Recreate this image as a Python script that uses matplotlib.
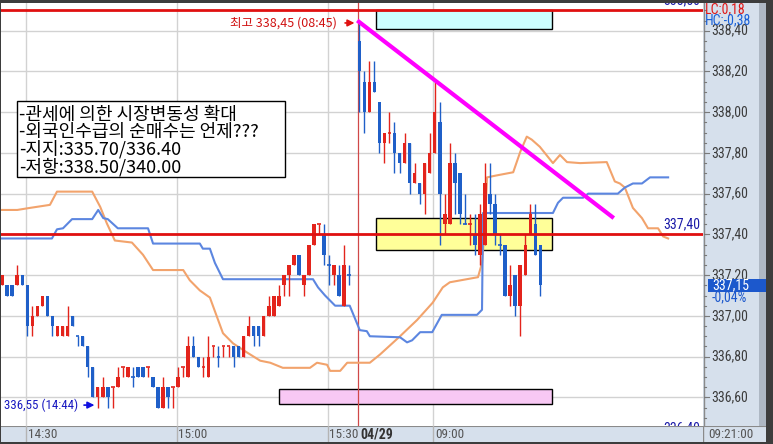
import numpy as np
import matplotlib
matplotlib.use("Agg")
import matplotlib.pyplot as plt
from matplotlib.patches import Rectangle
from matplotlib import font_manager as fm
import pandas as pd

# ---------------- data ----------------
prev_open  = [337.15,337.15,337.15,337.15,337.20,337.15,336.95,337.00,337.05,337.10,
              337.00,336.90,336.90,336.90,337.00,336.90,336.90,336.85,336.75,336.60,
              336.60,336.65,336.65,336.65,336.75,336.70,336.70,336.75,336.75,336.75,
              336.70,336.65,336.55,336.65,336.65,336.65,336.75,336.70,336.85,336.80,
              336.75,336.70,336.85,336.80,336.85,336.85,336.85,336.85,336.80,336.90,
              336.95,336.95,336.90,337.00,337.00,337.05,337.15,337.20,337.25,337.30,
              337.15,337.20,337.35,337.45,337.40,337.25,337.20,337.20,337.05,337.20]
prev_high  = [337.20,337.15,337.15,337.25,337.20,337.15,337.05,337.05,337.10,337.10,
              337.00,336.95,336.95,337.05,337.00,336.90,336.90,336.85,336.75,336.65,
              336.70,336.65,336.65,336.75,336.75,336.75,336.75,336.75,336.75,336.75,
              336.70,336.65,336.70,336.65,336.65,336.75,336.75,336.90,336.90,336.80,
              336.80,336.90,336.85,336.85,336.85,336.85,336.85,336.85,336.90,337.00,
              336.95,336.95,337.00,337.10,337.10,337.15,337.20,337.25,337.30,337.30,
              337.20,337.35,337.45,337.45,337.45,337.30,337.25,337.25,337.35,337.25]
prev_low   = [337.15,337.10,337.10,337.15,337.15,336.90,336.90,337.00,337.05,337.00,
              336.90,336.90,336.90,336.90,336.95,336.85,336.85,336.70,336.60,336.55,
              336.60,336.55,336.55,336.65,336.70,336.70,336.65,336.70,336.70,336.70,
              336.65,336.55,336.55,336.55,336.55,336.65,336.70,336.70,336.80,336.75,
              336.70,336.70,336.80,336.75,336.80,336.80,336.75,336.80,336.80,336.90,
              336.85,336.85,336.90,337.00,337.00,337.05,337.10,337.10,337.25,337.20,
              337.10,337.20,337.35,337.40,337.25,337.15,337.15,337.10,337.05,337.15]
prev_close = [337.20,337.10,337.10,337.20,337.15,336.95,337.00,337.05,337.10,337.00,
              336.95,336.95,336.95,336.95,336.95,336.90,336.85,336.75,336.60,336.65,
              336.65,336.60,336.65,336.70,336.75,336.75,336.70,336.70,336.70,336.75,
              336.65,336.55,336.65,336.60,336.65,336.70,336.75,336.85,336.80,336.75,
              336.75,336.80,336.85,336.80,336.85,336.85,336.80,336.80,336.90,336.95,
              336.90,336.90,337.00,337.05,337.10,337.10,337.20,337.25,337.30,337.20,
              337.20,337.35,337.45,337.45,337.30,337.25,337.25,337.10,337.25,337.20]

today_open  = [338.35,338.15,338.00,338.15,338.05,337.85,337.90,337.90,337.80,337.75,
               337.85,337.65,337.65,337.60,337.70,337.80,337.95,337.45,337.45,337.75,
               337.70,337.45,337.45,337.40,337.30,337.35,337.60,337.55,337.35,337.35,
               337.10,337.20,337.05,337.20,337.40,337.45,337.35]
today_high  = [338.45,338.20,338.25,338.25,338.05,337.90,338.00,337.95,337.80,337.90,
               337.85,337.75,337.65,337.75,337.90,338.15,338.05,337.60,337.85,337.80,
               337.70,337.60,337.50,337.50,337.55,337.75,337.75,337.60,337.40,337.35,
               337.25,337.20,337.25,337.40,337.55,337.55,337.35]
today_low   = [338.00,337.90,338.00,338.10,337.80,337.75,337.85,337.70,337.70,337.75,
               337.60,337.65,337.55,337.50,337.70,337.80,337.35,337.40,337.45,337.50,
               337.45,337.45,337.35,337.30,337.25,337.35,337.50,337.35,337.30,337.10,
               337.05,337.00,336.90,337.20,337.40,337.30,337.10]
today_close = [338.20,338.00,338.15,338.10,337.85,337.90,337.90,337.80,337.75,337.85,
               337.65,337.70,337.60,337.75,337.80,338.00,337.60,337.50,337.75,337.65,
               337.50,337.45,337.45,337.35,337.50,337.65,337.55,337.40,337.35,337.10,
               337.15,337.05,337.25,337.35,337.50,337.30,337.15]

# leading spans (slot, price) vertices
span_orange_x = [-5.4,-2.0,0.5,4.5,5.9,12.9,14.5,15.8,17.4,20.8,23.0,25.0,31.0,32.3,34.3,
                 36.3,38.9,40.9,43.7,46.3,48.3,50.8,56.2,57.6,59.6,60.2,62.2,63.6,68.1,70.1,
                 74.1,77.5,80.6,82.6,84.0,89.6,90.4,91.0,91.4,93.4,96.6,98.0,99.3,100.3,101.9,
                 104.5,105.9,107.3,109.9,115.2,116.8,117.8,118.8,120.4,122.2,123.4,125.4,126.4,127.4]
span_orange_y = [337.52,337.52,337.53,337.545,337.61,337.61,337.535,337.455,337.37,337.36,
                 337.30,337.225,337.225,337.175,337.125,337.09,336.915,336.865,336.82,336.78,
                 336.77,336.745,336.745,336.77,336.76,336.73,336.73,336.77,336.77,336.81,
                 336.90,336.98,337.065,337.14,337.165,337.19,337.26,337.44,337.68,337.69,
                 337.705,337.805,337.88,337.865,337.83,337.75,337.79,337.755,337.75,337.755,
                 337.66,337.65,337.63,337.53,337.48,337.43,337.43,337.39,337.38]
span_blue_x = [-5.4,4.9,5.9,7.1,8.9,12.9,14.1,15.1,16.0,18.0,24.0,25.0,34.3,34.9,36.3,
               37.3,38.9,56.8,57.8,59.2,61.2,64.1,66.1,67.5,68.1,74.1,75.5,76.5,78.1,80.5,
               82.4,89.4,90.4,90.6,104.5,105.5,106.5,110.5,111.5,117.4,118.8,120.4,122.2,123.8,127.4]
span_blue_y = [337.38,337.38,337.425,337.43,337.475,337.475,337.52,337.48,337.475,337.43,
               337.43,337.355,337.355,337.33,337.33,337.26,337.18,337.18,337.14,337.10,
               337.05,337.05,336.93,336.925,336.90,336.895,336.87,336.88,336.92,336.92,
               337.005,337.005,337.03,337.505,337.505,337.555,337.58,337.58,337.60,337.60,
               337.63,337.65,337.65,337.68,337.68]

trend_x = [65.6, 116.6]
trend_y = [338.45, 337.48]

level_lines = [338.50, 337.40, 336.40]
zone_x0 = [69.26, 69.26, 50.1]
zone_x1 = [104.25, 104.25, 104.25]
zone_y0 = [338.407, 337.323, 336.567]
zone_y1 = [338.502, 337.479, 336.640]
zone_col = ["#ccffff", "#ffff99", "#f8c8f4"]

grid_vals = [336.60, 336.80, 337.00, 337.20, 337.40, 337.60, 337.80, 338.00, 338.20, 338.40]
time_labels = ["14:30", "15:00", "15:30", "09:00"]
date_label = "04/29"
note_lines = ["-관세에 의한 시장변동성 확대", "-외국인수급의 순매수는 언제???",
              "-지지:335.70/336.40", "-저항:338.50/340.00"]

prev_times = [t.strftime("%H:%M") for t in pd.date_range("2025-04-28 14:25", periods=len(prev_open), freq="min")]
today_times = [t.strftime("%H:%M") for t in pd.date_range("2025-04-29 08:45", periods=len(today_open), freq="min")]
prev_slots = list(range(-5, -5 + len(prev_open)))
today_slots = list(range(66, 66 + len(today_open)))

# ---------------- layout ----------------
W, H = 773, 444
X0, DX = 27.3, 5.03
Y0, DY = 30.7, 203.7
RED = "#e3241c"
BLUE = "#1f5fc8"
NAVY = "#1a1aa8"


def pick(*names):
    for n in names:
        try:
            fm.findfont(fm.FontProperties(family=n), fallback_to_default=False)
            return n
        except Exception:
            pass
    return "DejaVu Sans"


NARROW = pick("Liberation Sans Narrow", "Roboto Condensed", "DejaVu Sans")
KR = ["Noto Sans CJK KR", "DejaVu Sans"]


def rect(x0, y0, x1, y1):
    return [x0 / W, 1 - y1 / H, (x1 - x0) / W, (y1 - y0) / H]


def fx(x):
    return x / W


def fy(y):
    return 1 - y / H


xlim = ((1 - X0) / DX, (703 - X0) / DX)
ylim = (338.40 - (426 - Y0) / DY, 338.40 + (Y0 - 3) / DY)

fig = plt.figure(figsize=(W / 100, H / 100), dpi=100, facecolor="#3d3d3d")

ax = fig.add_axes(rect(1, 3, 703, 426))
ax.set_xlim(*xlim)
ax.set_ylim(*ylim)
ax.set_facecolor("white")
for s in ax.spines.values():
    s.set_visible(False)
ax.set_xticks([])
ax.set_yticks([])

all_times = prev_times + today_times
all_slots = prev_slots + today_slots
tick_slots = [all_slots[all_times.index(t)] - 0.3 for t in time_labels]
sep_slot = today_slots[0] - 0.3

for v in grid_vals:
    ax.axhline(v, color="#d2d2d2", lw=1, zorder=1)
for s in tick_slots:
    ax.axvline(s, color="#d2d2d2", lw=1, zorder=1)

for x0, x1, y0, y1, c in zip(zone_x0, zone_x1, zone_y0, zone_y1, zone_col):
    ax.add_patch(Rectangle((x0, y0), x1 - x0, y1 - y0, facecolor=c, edgecolor="black", lw=1, zorder=2))

ax.axvline(sep_slot, color="#d04848", lw=0.9, zorder=2)

ax.plot(span_orange_x, span_orange_y, color="#f2a36c", lw=1.5, zorder=3)
ax.plot(span_blue_x, span_blue_y, color="#5c86e0", lw=1.5, zorder=3)


def draw_candles(slots, O, Hh, L, C, prev_c=None):
    for s, o, h, l, c in zip(slots, O, Hh, L, C):
        if c > o:
            up = True
        elif c < o:
            up = False
        else:
            up = prev_c is None or c >= prev_c
        col = RED if up else BLUE
        ax.vlines(s, l, h, color=col, lw=1, zorder=4)
        lo, hi = min(o, c), max(o, c)
        if hi - lo < 1e-9:
            ax.hlines(o, s - 0.35, s + 0.35, color=col, lw=1.2, zorder=4)
        else:
            ax.add_patch(Rectangle((s - 0.35, lo), 0.7, hi - lo, facecolor=col, edgecolor="none", zorder=4))
        prev_c = c
    return prev_c


pc = draw_candles(prev_slots, prev_open, prev_high, prev_low, prev_close)
draw_candles(today_slots, today_open, today_high, today_low, today_close, pc)

for v in level_lines:
    ax.axhline(v, color="#e01010", lw=2, zorder=5)
    ax.annotate(f"{v:.2f}".replace(".", ","), xy=(1, v), xycoords=("axes fraction", "data"),
                xytext=(-3, 3), textcoords="offset pixels", ha="right", va="bottom",
                color=NAVY, fontsize=10, family=NARROW, zorder=6, annotation_clip=False,
                clip_on=True)

ax.plot(trend_x, trend_y, color="#ff00ff", lw=3, zorder=6, solid_capstyle="butt")

hi_i = int(np.argmax(today_high))
hi_s, hi_v = today_slots[hi_i], today_high[hi_i]
ax.annotate("", xy=(hi_s - 0.4, hi_v - 0.012), xytext=(-15, 0), textcoords="offset pixels",
            arrowprops=dict(arrowstyle="-|>", color="#e01010", lw=1.2, mutation_scale=10), zorder=7)
ax.annotate(f"최고 {hi_v:.2f} ({today_times[hi_i]})".replace(".", ","), xy=(hi_s - 0.4, hi_v - 0.012),
            xytext=(-20, 0), textcoords="offset pixels", ha="right", va="center",
            color="#d01010", fontsize=9, family=KR, zorder=7)

lo_i = int(np.argmin(prev_low))
lo_s, lo_v = prev_slots[lo_i], prev_low[lo_i]
ax.annotate("", xy=(lo_s - 0.1, lo_v + 0.012), xytext=(-16, 0), textcoords="offset pixels",
            arrowprops=dict(arrowstyle="-|>", color="#1010e0", lw=1.2, mutation_scale=10), zorder=7)
ax.annotate(f"{lo_v:.2f} ({prev_times[lo_i]})".replace(".", ","), xy=(lo_s - 0.1, lo_v + 0.012),
            xytext=(-19, 0), textcoords="offset pixels", ha="right", va="center",
            color="#1818c0", fontsize=9.3, family=NARROW, zorder=7)

# note box
fig.patches.append(Rectangle((fx(17), fy(177)), (285 - 17) / W, (177 - 101) / H,
                             transform=fig.transFigure, facecolor="white", edgecolor="black", lw=1, zorder=5))
for i, t in enumerate(note_lines):
    fig.text(fx(19), fy(114.5 + 17.4 * i), t, ha="left", va="center", fontsize=13, family=KR,
             color="black", zorder=6)

# ---------------- right price panel ----------------
axr = fig.add_axes(rect(703, 3, 766, 426))
axr.set_xlim(0, 63)
axr.set_ylim(*ylim)
axr.set_facecolor("#d6e0ec")
for s in axr.spines.values():
    s.set_visible(False)
axr.set_xticks([])
axr.set_yticks([])
axr.axvline(0.5, color="#8a8a8a", lw=1)
axr.add_patch(Rectangle((56, ylim[0]), 7, ylim[1] - ylim[0], facecolor="#aeb8c4", edgecolor="none"))
minor = np.arange(336.45, 338.55, 0.05)
for v in minor:
    axr.plot([0.5, 3], [v, v], color="#7a7a7a", lw=0.8)
for v in grid_vals:
    axr.plot([0.5, 6], [v, v], color="#7a7a7a", lw=0.8)
    axr.text(8, v, f"{v:.2f}".replace(".", ","), ha="left", va="center", fontsize=10,
             family=NARROW, color="#3c3c3c")

last = today_close[-1]
axr.add_patch(Rectangle((5, last - 0.033), 58, 0.066, facecolor="#1c58cc", edgecolor="none", zorder=3))
axr.text(9, last, f"{last:.2f}".replace(".", ","), ha="left", va="center", fontsize=10,
         family=NARROW, color="white", zorder=4)
axr.text(9, last - 0.06, "-0,04%", ha="left", va="center", fontsize=10, family=NARROW, color="#1c58cc")
fig.text(fx(705), fy(9), "LC:0,18", ha="left", va="center", fontsize=10, family=NARROW, color="#e01818")
fig.text(fx(705), fy(20), "HC:-0,38", ha="left", va="center", fontsize=10, family=NARROW, color="#1860d8")

# ---------------- bottom time panel ----------------
axb = fig.add_axes(rect(1, 426, 703, 442))
axb.set_xlim(*xlim)
axb.set_ylim(0, 1)
axb.set_facecolor("#d6e0ec")
for s in axb.spines.values():
    s.set_visible(False)
axb.set_xticks([])
axb.set_yticks([])
axb.axhline(1, color="#8a8a8a", lw=1.5)
for s, t in zip(tick_slots, time_labels):
    axb.axvline(s, color="#b4b4b4", lw=1)
    axb.text(s + 0.35, 0.45, t, ha="left", va="center", fontsize=9.5, family=NARROW, color="#555555")
axb.text(sep_slot + 0.5, 0.45, date_label, ha="left", va="center", fontsize=10, family=NARROW,
         color="#333333", weight="bold")

axc = fig.add_axes(rect(703, 426, 766, 442))
axc.set_facecolor("#d6e0ec")
for s in axc.spines.values():
    s.set_visible(False)
axc.set_xticks([])
axc.set_yticks([])
axc.axhline(1, color="#8a8a8a", lw=1.5)
axc.axvline(0, color="#8a8a8a", lw=1)
axc.text(0.08, 0.45, today_times[-1] + ":00", ha="left", va="center", fontsize=9.5,
         family=NARROW, color="#555555", transform=axc.transAxes)

fig.savefig("out.png", dpi=100, facecolor=fig.get_facecolor())
